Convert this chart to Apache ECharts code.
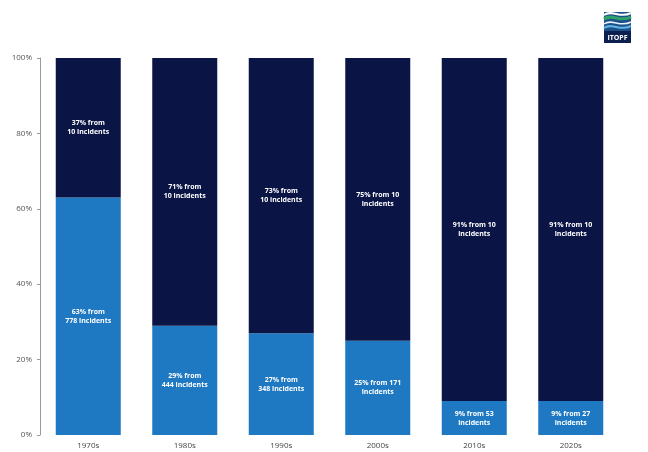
<!DOCTYPE html>
<html>
<head>
<meta charset="utf-8">
<style>
  html, body { margin: 0; padding: 0; background: #ffffff; }
  #chart { width: 648px; height: 452px; }
</style>
<script src="https://cdn.jsdelivr.net/npm/echarts@6/dist/echarts.min.js"></script>
</head>
<body>
<div id="chart"></div>
<script>
// Decades shown on the x axis
const decades = ['1970s', '1980s', '1990s', '2000s', '2010s', '2020s'];
// Share of oil spilled by the ten largest incidents in each decade (%)
const topTenShare = [37, 71, 73, 75, 91, 91];
const topTenCount = [10, 10, 10, 10, 10, 10];
// Share of oil spilled by all remaining incidents (%)
const otherShare = [63, 29, 27, 25, 9, 9];
const otherCount = [778, 444, 348, 171, 53, 27];
// Where the incident count sits in the two-line label
const topCountOnFirstLine = [false, false, false, true, true, true];
const otherCountOnFirstLine = [false, false, false, true, true, true];
// Value axis tick labels
const yTicks = ['0%', '20%', '40%', '60%', '80%', '100%'];

const NAVY = '#0a1445';
const BLUE = '#1e79c2';

function labelText(share, count, countFirst) {
  return countFirst
    ? share + '% from ' + count + '\nincidents'
    : share + '% from\n' + count + ' incidents';
}

const labelStyle = {
  show: true,
  position: 'inside',
  color: '#ffffff',
  fontFamily: '"Open Sans", "Noto Sans", sans-serif',
  fontSize: 7,
  fontWeight: 'bold',
  lineHeight: 9
};

// Small wave stroke for the logo
function wave(y, color, width) {
  return {
    type: 'bezierCurve',
    shape: { x1: 0, y1: y + 2, cpx1: 8, cpy1: y - 4, cpx2: 16, cpy2: y + 6, x2: 27, y2: y },
    style: { stroke: color, lineWidth: width, fill: null }
  };
}

const chart = echarts.init(document.getElementById('chart'), null, { renderer: 'canvas' });

chart.setOption({
  animation: false,
  backgroundColor: '#ffffff',
  grid: { left: 40, right: 29, top: 58, bottom: 17, containLabel: false },
  xAxis: {
    type: 'category',
    data: decades,
    axisLine: { show: false },
    axisTick: { show: false },
    axisLabel: {
      margin: 7,
      color: '#444444',
      fontSize: 8,
      fontFamily: '"Open Sans", "Noto Sans", sans-serif'
    }
  },
  yAxis: {
    type: 'value',
    min: 0,
    max: 100,
    interval: 20,
    axisLine: { show: true, lineStyle: { color: '#9a9a9a', width: 1 } },
    axisTick: { show: true, length: 3, lineStyle: { color: '#9a9a9a' } },
    splitLine: { show: false },
    axisLabel: {
      margin: 8,
      color: '#555555',
      fontSize: 8,
      fontFamily: '"Open Sans", "Noto Sans", sans-serif',
      formatter: function (v) { return yTicks[Math.round(v / 20)]; }
    }
  },
  series: [
    {
      name: 'Other incidents',
      type: 'bar',
      stack: 'total',
      barWidth: 65,
      itemStyle: { color: BLUE },
      data: otherShare,
      label: Object.assign({}, labelStyle, {
        formatter: function (p) {
          return labelText(otherShare[p.dataIndex], otherCount[p.dataIndex], otherCountOnFirstLine[p.dataIndex]);
        }
      })
    },
    {
      name: 'Top 10 incidents',
      type: 'bar',
      stack: 'total',
      barWidth: 65,
      itemStyle: { color: NAVY },
      data: topTenShare,
      label: Object.assign({}, labelStyle, {
        formatter: function (p) {
          return labelText(topTenShare[p.dataIndex], topTenCount[p.dataIndex], topCountOnFirstLine[p.dataIndex]);
        }
      })
    }
  ],
  graphic: [
    {
      type: 'group',
      x: 604,
      y: 8,
      children: [
        { type: 'rect', shape: { x: 0, y: 0, width: 27, height: 23 }, style: { fill: '#1d4f8a' } },
        { type: 'rect', shape: { x: 0, y: 0, width: 27, height: 4 }, style: { fill: '#ffffff' } },
        wave(5, '#ffffff', 2),
        wave(9, '#2fa46a', 3),
        wave(14, '#e8f2f8', 1.5),
        wave(18, '#5fb4e0', 2),
        { type: 'rect', shape: { x: 0, y: 23, width: 27, height: 12 }, style: { fill: '#0d1f4f' } },
        {
          type: 'text',
          x: 13.5, y: 29.5,
          style: {
            text: 'ITOPF',
            fill: '#ffffff',
            font: 'bold 7px "Open Sans", "Noto Sans", sans-serif',
            align: 'center',
            verticalAlign: 'middle'
          }
        }
      ]
    }
  ]
});
</script>
</body>
</html>
